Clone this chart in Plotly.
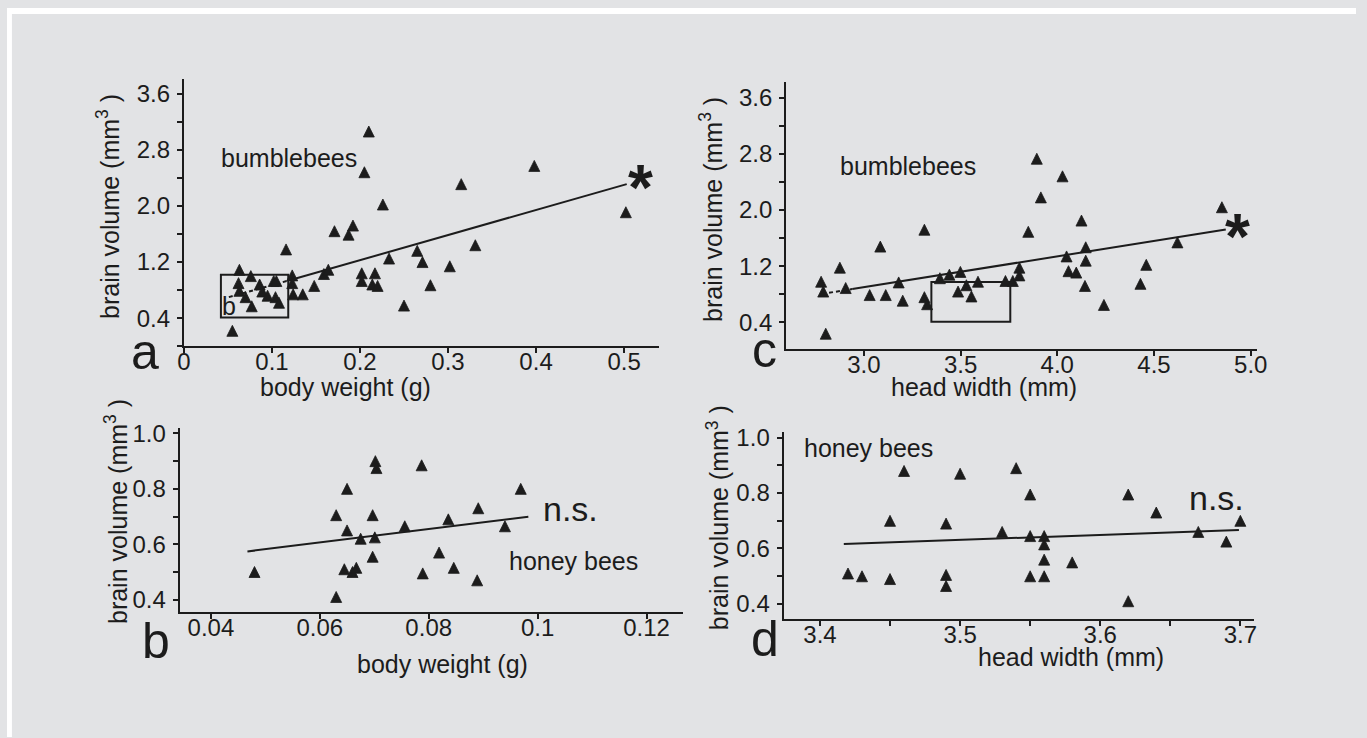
import plotly.graph_objects as go

# ---------------- data ----------------
# panel a: bumblebees, body weight (g) vs brain volume (mm3)
a_x = [0.055, 0.063, 0.062, 0.063, 0.070, 0.077, 0.076, 0.086, 0.089, 0.095,
       0.102, 0.105, 0.104, 0.108, 0.116, 0.123, 0.123, 0.124, 0.135, 0.148,
       0.159, 0.164, 0.171, 0.187, 0.192, 0.205, 0.210, 0.226, 0.202, 0.202,
       0.217, 0.214, 0.220, 0.233, 0.250, 0.265, 0.271, 0.280, 0.302, 0.315,
       0.331, 0.398, 0.502]
a_y = [0.22, 1.09, 0.90, 0.79, 0.70, 0.57, 1.00, 0.88, 0.78, 0.72,
       0.93, 0.93, 0.70, 0.62, 1.38, 1.01, 0.90, 0.74, 0.74, 0.86,
       1.03, 1.09, 1.64, 1.59, 1.72, 2.48, 3.06, 2.02, 1.04, 0.93,
       1.04, 0.88, 0.86, 1.25, 0.58, 1.36, 1.20, 0.87, 1.14, 2.31,
       1.44, 2.57, 1.91]
a_fit_dash_x = [0.051, 0.120]
a_fit_dash_y = [0.70, 0.94]
a_fit_x = [0.120, 0.503]
a_fit_y = [0.94, 2.31]
a_box = [0.042, 0.1185, 0.41, 1.02]   # x0, x1, y0, y1 (region shown in b)

# panel c: bumblebees, head width (mm) vs brain volume (mm3)
c_x = [2.779, 2.790, 2.803, 2.876, 2.906, 3.030, 3.085, 3.113, 3.180, 3.201,
       3.313, 3.313, 3.327, 3.393, 3.442, 3.499, 3.487, 3.530, 3.556, 3.590,
       3.732, 3.770, 3.804, 3.804, 3.850, 3.894, 3.915, 4.027, 4.048, 4.058,
       4.098, 4.125, 4.147, 4.147, 4.143, 4.241, 4.430, 4.460, 4.621, 4.851]
c_y = [0.98, 0.84, 0.24, 1.18, 0.89, 0.79, 1.48, 0.79, 0.97, 0.71,
       1.72, 0.76, 0.66, 1.03, 1.08, 1.12, 0.84, 0.93, 0.77, 0.98,
       0.99, 0.99, 1.18, 1.07, 1.69, 2.73, 2.18, 2.48, 1.34, 1.13,
       1.11, 1.85, 1.47, 1.28, 0.92, 0.65, 0.95, 1.22, 1.54, 2.04]
c_fit_dash_x = [2.82, 2.94]
c_fit_dash_y = [0.822, 0.875]
c_fit_x = [2.94, 4.871]
c_fit_y = [0.875, 1.722]
c_box = [3.349, 3.757, 0.408, 0.976]

# panel b: honey bees, body weight (g) vs brain volume (mm3)
b_x = [0.048, 0.063, 0.063, 0.065, 0.065, 0.0645, 0.066, 0.0667, 0.0675, 0.0697,
       0.0697, 0.0702, 0.0704, 0.0701, 0.0756, 0.0787, 0.0789, 0.0819, 0.0836, 0.0846,
       0.0891, 0.0889, 0.094, 0.0969]
b_y = [0.50, 0.705, 0.41, 0.80, 0.65, 0.51, 0.50, 0.515, 0.62, 0.705,
       0.555, 0.90, 0.875, 0.625, 0.665, 0.885, 0.495, 0.57, 0.69, 0.515,
       0.73, 0.47, 0.665, 0.80]
b_fit_x = [0.0467, 0.0983]
b_fit_y = [0.574, 0.699]

# panel d: honey bees, head width (mm) vs brain volume (mm3)
d_x = [3.42, 3.43, 3.45, 3.45, 3.46, 3.49, 3.49, 3.49, 3.50, 3.53,
       3.54, 3.55, 3.55, 3.55, 3.56, 3.56, 3.56, 3.56, 3.58, 3.62,
       3.62, 3.64, 3.67, 3.69, 3.70]
d_y = [0.51, 0.50, 0.70, 0.49, 0.88, 0.69, 0.505, 0.465, 0.87, 0.66,
       0.89, 0.795, 0.645, 0.50, 0.645, 0.615, 0.56, 0.50, 0.55, 0.795,
       0.41, 0.73, 0.66, 0.625, 0.70]
d_fit_x = [3.417, 3.699]
d_fit_y = [0.616, 0.667]

# ticks
big_y_vals = [0, 0.4, 0.8, 1.2, 1.6, 2.0, 2.4, 2.8, 3.2, 3.6]
big_y_text = ["", "0.4", "", "1.2", "", "2.0", "", "2.8", "", "3.6"]
a_x_vals = [0, 0.1, 0.2, 0.3, 0.4, 0.5]
a_x_text = ["0", "0.1", "0.2", "0.3", "0.4", "0.5"]
c_x_vals = [3.0, 3.5, 4.0, 4.5, 5.0]
c_x_text = ["3.0", "3.5", "4.0", "4.5", "5.0"]
small_y_vals = [0.4, 0.5, 0.6, 0.7, 0.8, 0.9, 1.0]
small_y_text = ["0.4", "", "0.6", "", "0.8", "", "1.0"]
b_x_vals = [0.04, 0.06, 0.08, 0.10, 0.12]
b_x_text = ["0.04", "0.06", "0.08", "0.1", "0.12"]
d_x_vals = [3.40, 3.45, 3.50, 3.55, 3.60, 3.65, 3.70]
d_x_text = ["3.4", "", "3.5", "", "3.6", "", "3.7"]

# ---------------- styling / layout ----------------
W, H = 1367, 738
INK = "#1c1c1c"
BG = "#e2e3e5"
FONT = "Liberation Sans, Arial, sans-serif"


def PX(px):
    return px / W


def PY(py):
    return 1 - py / H


# panel frames in pixels: (left, right, bottom, top) and axis ranges
frames = {
    "a": dict(px=(179.3, 661), py=(342.4, 71.7), xr=[0, 0.54], yr=[0, 3.81]),
    "c": dict(px=(789.5, 1266.2), py=(345, 75), xr=[2.598, 5.03], yr=[0.0246, 3.82]),
    "b": dict(px=(175, 685), py=(611.7, 425), xr=[0.03426, 0.1267], yr=[0.3546, 1.02]),
    "d": dict(px=(786.9, 1264), py=(618.3, 429.3), xr=[3.374, 3.71], yr=[0.3465, 1.02]),
}
ticks = {
    "a": (a_x_vals, a_x_text, big_y_vals, big_y_text),
    "c": (c_x_vals, c_x_text, big_y_vals, big_y_text),
    "b": (b_x_vals, b_x_text, small_y_vals, small_y_text),
    "d": (d_x_vals, d_x_text, small_y_vals, small_y_text),
}
axis_ids = {"a": ("", "5"), "c": ("2", "6"), "b": ("3", "7"), "d": ("4", "8")}

MSIZE = 11  # arrow-up marker: equal width and height, tip at the data point


def axis(domain, rng, vals, text, anchor, standoff):
    return dict(domain=domain, range=rng, anchor=anchor, tickvals=vals, ticktext=text,
                showline=True, linewidth=2, linecolor=INK, showgrid=False,
                zeroline=False, ticks="outside", ticklen=5, tickwidth=1.5,
                tickcolor=INK, tickfont=dict(family=FONT, size=24, color=INK),
                ticklabelstandoff=standoff, fixedrange=True)


layout = dict(width=W, height=H, autosize=False, margin=dict(l=0, r=0, t=0, b=0),
              paper_bgcolor=BG, plot_bgcolor="rgba(0,0,0,0)",
              font=dict(family=FONT, color=INK))
for key, f in frames.items():
    n, ov = axis_ids[key]
    xv, xt, yv, yt = ticks[key]
    layout["xaxis" + n] = axis([PX(f["px"][0]), PX(f["px"][1])], f["xr"], xv, xt, "y" + n, -12)
    layout["yaxis" + n] = axis([PY(f["py"][0]), PY(f["py"][1])], f["yr"], yv, yt, "x" + n, 2)
    # hidden twin y axis, shifted by half a marker so the triangles sit centred on their values
    ppu = (f["py"][0] - f["py"][1]) / (f["yr"][1] - f["yr"][0])
    shift = (MSIZE / 2) / ppu
    layout["yaxis" + ov] = dict(overlaying="y" + n, anchor="x" + n, visible=False,
                                range=[f["yr"][0] - shift, f["yr"][1] - shift],
                                fixedrange=True)

fig = go.Figure()
fig.update_layout(**layout)

marker = dict(symbol="arrow-up", size=MSIZE, color=INK, line=dict(color=INK, width=0.8))


def add_points(xs, ys, key):
    n, ov = axis_ids[key]
    fig.add_trace(go.Scatter(x=xs, y=ys, mode="markers", marker=marker,
                             xaxis="x" + n, yaxis="y" + ov, showlegend=False,
                             hoverinfo="skip"))


def add_line(xs, ys, key, dash="solid"):
    n, ov = axis_ids[key]
    fig.add_trace(go.Scatter(x=xs, y=ys, mode="lines",
                             line=dict(color=INK, width=2, dash=dash),
                             xaxis="x" + n, yaxis="y" + n, showlegend=False,
                             hoverinfo="skip"))


add_line(a_fit_dash_x, a_fit_dash_y, "a", dash="4px,3px")
add_line(a_fit_x, a_fit_y, "a")
add_points(a_x, a_y, "a")

add_line(c_fit_dash_x, c_fit_dash_y, "c", dash="4px,3px")
add_line(c_fit_x, c_fit_y, "c")
add_points(c_x, c_y, "c")

add_line(b_fit_x, b_fit_y, "b")
add_points(b_x, b_y, "b")

add_line(d_fit_x, d_fit_y, "d")
add_points(d_x, d_y, "d")

# boxes marking the honey-bee range
fig.add_shape(type="rect", xref="x", yref="y", x0=a_box[0], x1=a_box[1], y0=a_box[2], y1=a_box[3],
              line=dict(color=INK, width=2), layer="below")
fig.add_shape(type="rect", xref="x2", yref="y2", x0=c_box[0], x1=c_box[1], y0=c_box[2], y1=c_box[3],
              line=dict(color=INK, width=2), layer="below")

# white outer border (top and left)
fig.add_shape(type="rect", xref="paper", yref="paper", x0=0, x1=PX(5), y0=0, y1=1,
              fillcolor="white", line=dict(width=0))
fig.add_shape(type="rect", xref="paper", yref="paper", x0=0, x1=1, y0=PY(6), y1=1,
              fillcolor="white", line=dict(width=0))


def text(s, cx, cy, size, anchor="center", angle=0, bold=False):
    fig.add_annotation(text=("<b>%s</b>" % s) if bold else s, xref="paper", yref="paper",
                       x=PX(cx), y=PY(cy), xanchor=anchor, yanchor="middle",
                       showarrow=False, textangle=angle,
                       font=dict(family=FONT, size=size, color=INK))


ylab = "brain volume (mm<sup>3</sup> )"
# axis titles
text(ylab, 103, 200.8, 25, angle=-90)
text(ylab, 714, 203.8, 25, angle=-90)
text(ylab, 111, 509.7, 25, angle=-90)
text(ylab, 720, 516, 25, angle=-90)
text("body weight (g)", 343, 384, 25)
text("head width (mm)", 990, 384, 25)
text("body weight (g)", 441.7, 664, 25)
text("head width (mm)", 1078, 657, 25)

# panel letters
text("a", 139.5, 348.5, 50)
text("c", 768, 346.5, 50)
text("b", 151, 640.5, 50)
text("d", 768, 639.2, 50)

# labels inside panels
text("bumblebees", 215, 152, 25, anchor="left")
text("bumblebees", 842.4, 159.5, 25, anchor="left")
text("honey bees", 507, 560, 25, anchor="left")
text("honey bees", 805.4, 445.6, 25, anchor="left")
text("n.s.", 541.6, 507.4, 34, anchor="left")
text("n.s.", 1195.7, 496.4, 34, anchor="left")
text("b", 225, 301.3, 25)
text("*", 641.7, 182, 64, bold=True)
text("*", 1246.7, 232, 64, bold=True)

fig.write_html(
    "out.html",
    config={"displayModeBar": False},
    post_script="document.body.style.margin='0';document.body.style.padding='0';"
                "document.body.style.overflow='hidden';",
)
